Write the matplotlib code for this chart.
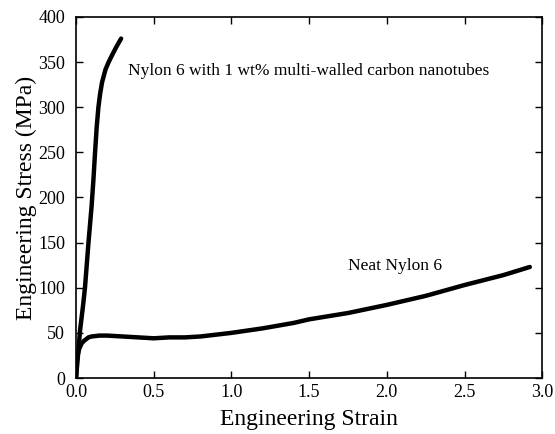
import matplotlib.pyplot as plt

# Nylon 6 with 1 wt% MWCNT
strain_cnt = [0.0, 0.01, 0.026, 0.045, 0.058, 0.08, 0.10, 0.112, 0.122, 0.133,
              0.144, 0.155, 0.168, 0.19, 0.21, 0.23, 0.26, 0.29]
stress_cnt = [0, 20, 53, 80, 101, 150, 190, 220, 249, 278,
              300, 315, 328, 342, 350, 357, 367, 376]

# neat Nylon 6
strain_neat = [0.0, 0.003, 0.01, 0.02, 0.035, 0.05, 0.08, 0.1, 0.15, 0.2, 0.3,
               0.4, 0.5, 0.6, 0.7, 0.8, 0.9, 1.0, 1.2, 1.4, 1.5, 1.75, 2.0,
               2.25, 2.5, 2.75, 2.92]
stress_neat = [0, 15, 25, 32, 38, 41, 45, 46, 47, 47, 46,
               45, 44, 45, 45, 46, 48, 50, 55, 61, 65, 72, 81,
               91, 103, 114, 123]

plt.rcParams['font.family'] = 'Liberation Serif'

fig = plt.figure(figsize=(5.55, 4.34), dpi=100)
ax = fig.add_axes([0.137, 0.129, 0.840, 0.832])

ax.plot(strain_cnt, stress_cnt, 'k-', linewidth=3.2, solid_capstyle='round')
ax.plot(strain_neat, stress_neat, 'k-', linewidth=3.2, solid_capstyle='round')

ax.text(0.335, 340, 'Nylon 6 with 1 wt% multi-walled carbon nanotubes',
        fontsize=12.5, va='center')
ax.text(1.75, 124, 'Neat Nylon 6', fontsize=12.5, va='center')

ax.set_xlim(0, 3.0)
ax.set_ylim(0, 400)
ax.set_xticks([0, 0.5, 1.0, 1.5, 2.0, 2.5, 3.0])
ax.set_xticklabels(['0.0', '0.5', '1.0', '1.5', '2.0', '2.5', '3.0'])
ax.set_yticks(range(0, 401, 50))
ax.tick_params(direction='in', top=True, right=True, length=5, width=1,
               labelsize=13)
ax.tick_params(axis='x', pad=4)
ax.tick_params(axis='y', pad=8)
for s in ax.spines.values():
    s.set_linewidth(1.2)

ax.set_xlabel('Engineering Strain', fontsize=17, labelpad=6)
ax.set_ylabel('Engineering Stress (MPa)', fontsize=17, labelpad=1)

fig.savefig('out.png', dpi=100)
